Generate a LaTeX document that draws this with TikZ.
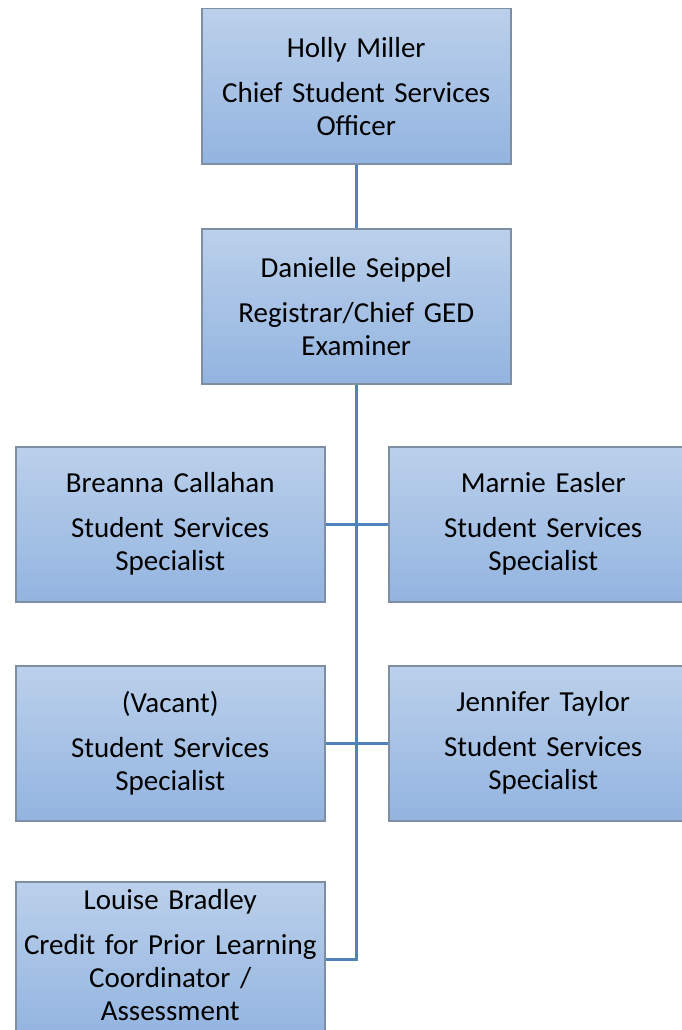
\documentclass[tikz,border=0pt]{standalone}
\usepackage{fontspec}
\setmainfont[WordSpace=0.9]{Carlito}
\begin{document}
\begin{tikzpicture}[x=1pt,y=-1pt,
  orgbox/.style={rectangle, anchor=north west, draw=boxborder, line width=1.5pt,
    top color=boxtop, bottom color=boxbot, minimum width=309pt, minimum height=155pt,
    inner sep=0pt, text width=305pt, align=center,
    font=\fontsize{29pt}{33pt}\selectfont},
  link/.style={draw=linkblue, line width=3pt}]
\definecolor{boxtop}{HTML}{BBD0EB}
\definecolor{boxbot}{HTML}{93B4E0}
\definecolor{boxborder}{HTML}{7F8EA3}
\definecolor{linkblue}{HTML}{4F81BD}
\useasboundingbox (0,0) rectangle (681,1030);
\node[orgbox] (holly) at (201,8) {Holly Miller\\[12pt]Chief Student Services\\Officer};
\node[orgbox] (dan) at (201,228) {Danielle Seippel\\[12pt]Registrar/Chief GED\\Examiner};
\node[orgbox] (bre) at (15,446) {Breanna Callahan\\[12pt]Student Services\\Specialist};
\node[orgbox] (mar) at (388,446) {Marnie Easler\\[12pt]Student Services\\Specialist};
\node[orgbox] (vac) at (15,665) {(Vacant)\\[12pt]Student Services\\Specialist};
\node[orgbox] (jen) at (388,665) {Jennifer Taylor\\[12pt]Student Services\\Specialist};
\node[orgbox] (lou) at (15,881) {Louise Bradley\\[12pt]Credit for Prior Learning\\Coordinator /\\Assessment\\[-24pt]\mbox{}};
\draw[link] (holly.south) -- (dan.north);
\draw[link] (dan.south) |- (lou.east);
\draw[link] (bre.east) -- (mar.west);
\draw[link] (vac.east) -- (jen.west);
\end{tikzpicture}
\end{document}
